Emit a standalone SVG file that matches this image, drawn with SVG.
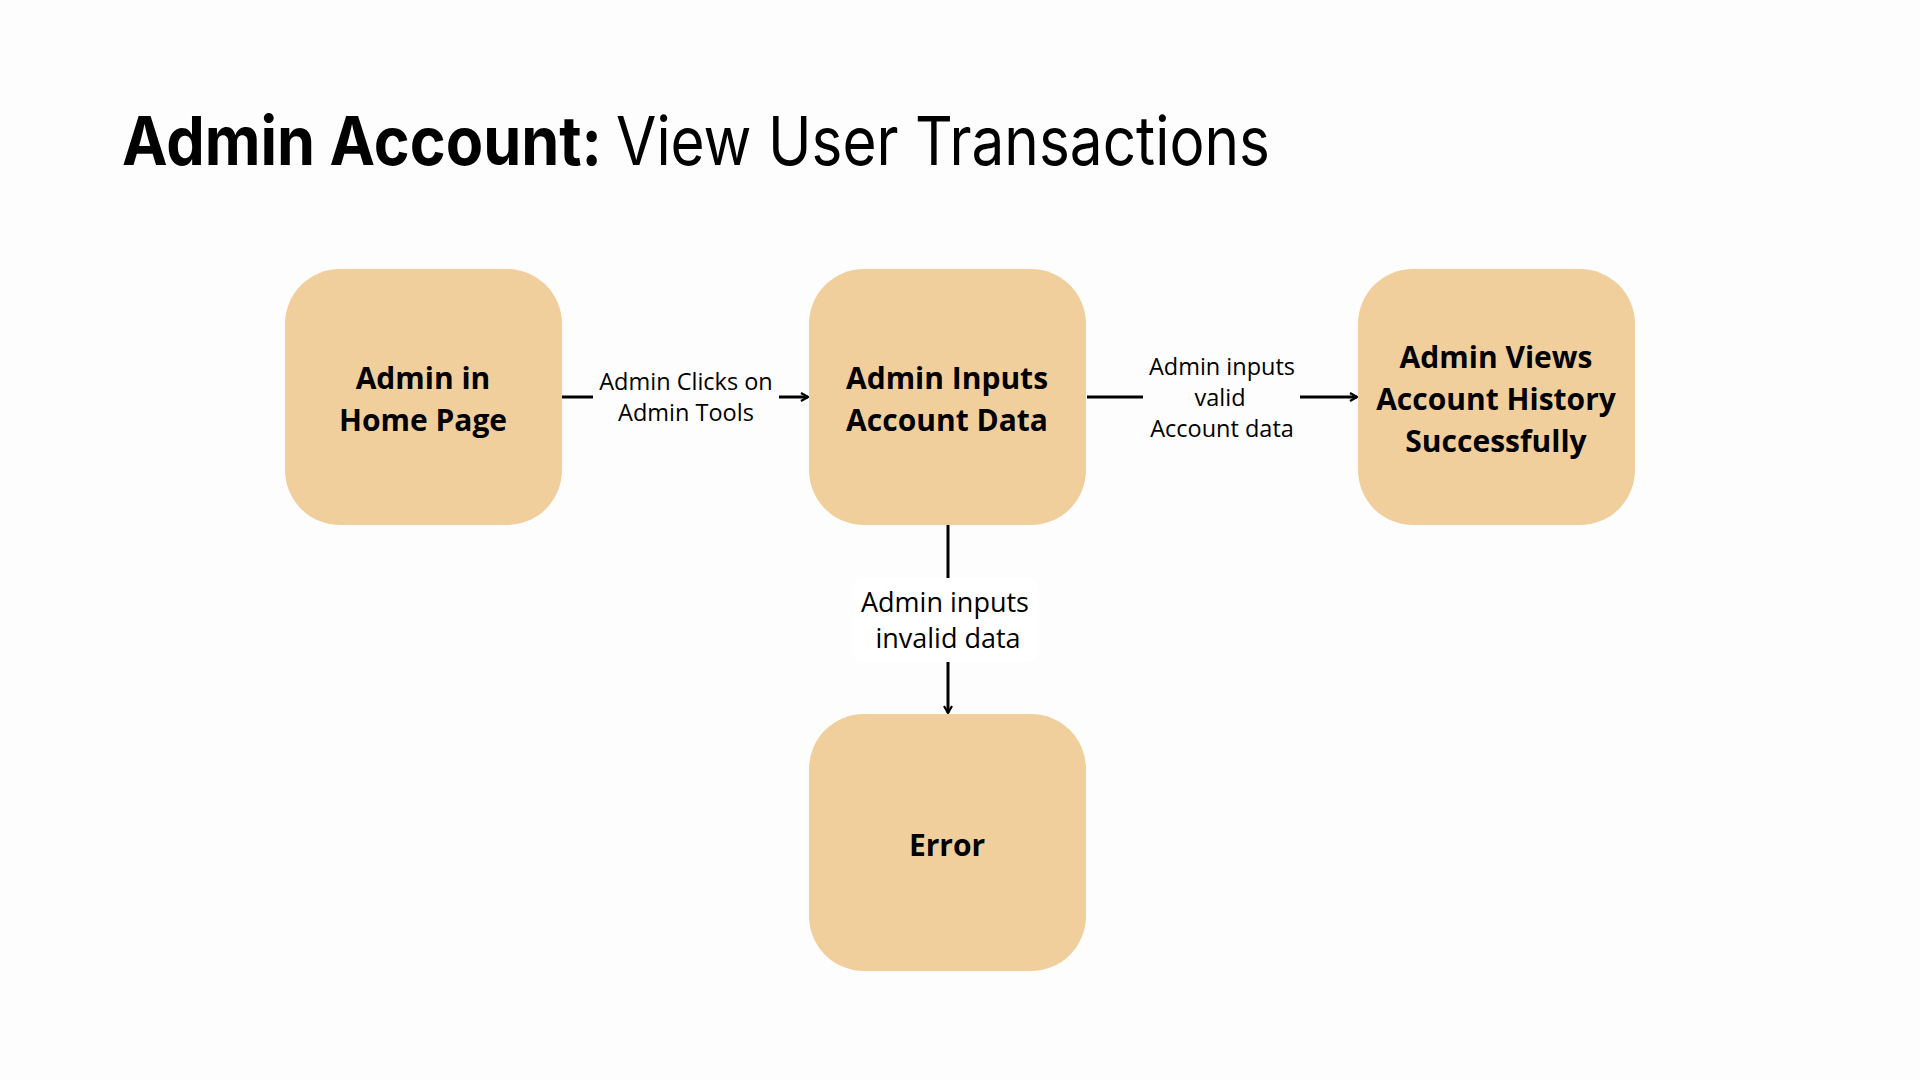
<svg xmlns="http://www.w3.org/2000/svg" width="1920" height="1080" viewBox="0 0 1920 1080">
<defs>
<style>
.node{fill:#f1cf9d;}
.nt{font-family:"Open Sans","Noto Sans",sans-serif;font-weight:700;font-size:30px;fill:#000;text-anchor:middle;}
.el{font-family:"Open Sans","Noto Sans",sans-serif;font-weight:400;font-size:23.5px;fill:#000;text-anchor:middle;}
.el2{font-family:"Open Sans","Noto Sans",sans-serif;font-weight:400;font-size:27px;fill:#000;text-anchor:middle;}
.ln{stroke:#000;stroke-width:3;fill:none;}
.tt{font-family:Inter,sans-serif;font-size:67px;fill:#000;}
</style>
<marker id="arr" viewBox="0 0 10 10" refX="9" refY="5" markerWidth="10" markerHeight="10" markerUnits="userSpaceOnUse" orient="auto">
<path d="M2,1 L9,5 L2,9" fill="none" stroke="#000" stroke-width="2.2"/>
</marker>
</defs>
<rect width="1920" height="1080" fill="#fdfdfd"/>
<text class="tt" x="122" y="165" font-weight="700" textLength="480" lengthAdjust="spacingAndGlyphs">Admin Account:</text>
<text class="tt" x="616" y="165" font-weight="400" textLength="654" lengthAdjust="spacingAndGlyphs">View User Transactions</text>
<g id="connectors">
<line class="ln" x1="562" y1="397" x2="593" y2="397"/>
<line class="ln" x1="779" y1="397" x2="808" y2="397" marker-end="url(#arr)"/>
<text class="el" x="686" y="390">Admin Clicks on</text>
<text class="el" x="686" y="421">Admin Tools</text>
<line class="ln" x1="1087" y1="397" x2="1143" y2="397"/>
<line class="ln" x1="1300" y1="397" x2="1357" y2="397" marker-end="url(#arr)"/>
<text class="el" x="1222" y="375">Admin inputs</text>
<text class="el" x="1220" y="406">valid</text>
<text class="el" x="1222" y="437">Account data</text>
<line class="ln" x1="948" y1="525" x2="948" y2="578"/>
<rect x="853" y="578" width="185" height="84" rx="10" fill="#ffffff"/>
<text class="el2" x="945" y="612">Admin inputs</text>
<text class="el2" x="948" y="648">invalid data</text>
<line class="ln" x1="948" y1="662" x2="948" y2="713" marker-end="url(#arr)"/>
</g>
<g id="node-home">
<rect class="node" x="285" y="269" width="277" height="256" rx="55"/>
<text class="nt" x="423" y="389">Admin in</text>
<text class="nt" x="423" y="431">Home Page</text>
</g>
<g id="node-inputs">
<rect class="node" x="809" y="269" width="277" height="256" rx="55"/>
<text class="nt" x="947" y="389">Admin Inputs</text>
<text class="nt" x="947" y="431">Account Data</text>
</g>
<g id="node-views">
<rect class="node" x="1358" y="269" width="277" height="256" rx="55"/>
<text class="nt" x="1496" y="368">Admin Views</text>
<text class="nt" x="1496" y="410">Account History</text>
<text class="nt" x="1496" y="452">Successfully</text>
</g>
<g id="node-error">
<rect class="node" x="809" y="714" width="277" height="257" rx="55"/>
<text class="nt" x="947" y="856">Error</text>
</g>
</svg>
